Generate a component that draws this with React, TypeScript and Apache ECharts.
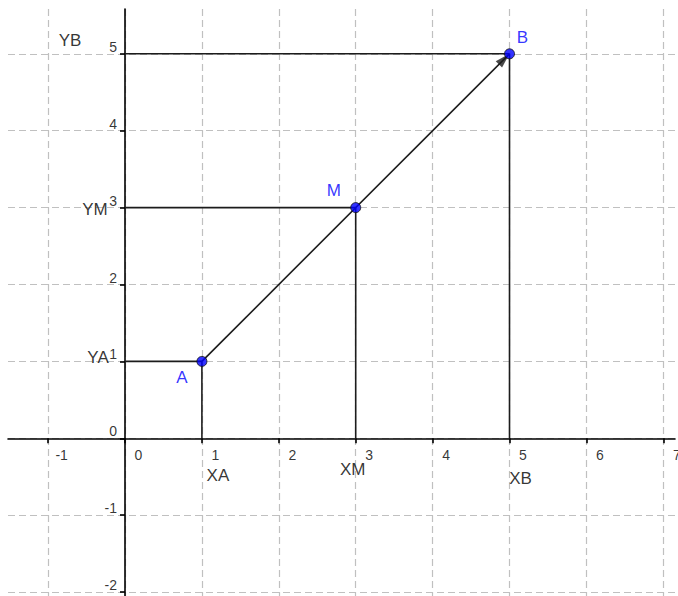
import React, { useEffect, useRef } from "react";
import * as echarts from "echarts";

// ---- data ----
const pointNames = ["A", "M", "B"];
const pointX = [1, 3, 5];
const pointY = [1, 3, 5];
const projXNames = ["XA", "XM", "XB"];
const projYNames = ["YA", "YM", "YB"];
const xTicks = [-1, 0, 1, 2, 3, 4, 5, 6, 7];
const yTicks = [-2, -1, 0, 1, 2, 3, 4, 5];
const xRange = [-1.5215, 7.152];
const yRange = [-2.0507, 5.5826];

// ---- layout (label offsets in px) ----
const pointLabelOffsets = [
  [-20, 16],
  [-22, -17],
  [13, -16],
];
const projXOffsets = [
  [16, 37],
  [-3, 31],
  [11, 40],
];
const projYOffsets = [
  [-27, -4],
  [-30, 2],
  [-55, -13],
];
const ARROW_LEN = 15;
const ARROW_W = 9;

const FONT = "'Liberation Sans', Arial, sans-serif";
const LINE = "#1c1c1c";

export default function App() {
  const ref = useRef<HTMLDivElement>(null);
  useEffect(() => {
    if (!ref.current) return;
    const chart = echarts.init(ref.current, undefined, { renderer: "svg" });

    const segSeries: any[] = [];
    pointX.forEach((x, i) => {
      const y = pointY[i];
      segSeries.push({
        type: "line",
        data: [
          [0, y],
          [x, y],
        ],
        symbol: "none",
        lineStyle: { color: LINE, width: 1.6 },
        z: 3,
        silent: true,
      });
      segSeries.push({
        type: "line",
        data: [
          [x, 0],
          [x, y],
        ],
        symbol: "none",
        lineStyle: { color: LINE, width: 1.6 },
        z: 3,
        silent: true,
      });
    });

    const first = 0;
    const last = pointX.length - 1;
    const dx = pointX[last] - pointX[first];
    const dy = pointY[last] - pointY[first];
    const ang = Math.atan2(dy, dx);
    const rotDeg = (ang * 180) / Math.PI - 90;
    const back = ARROW_LEN / 2;
    const arrowOffset = [-Math.cos(ang) * back, Math.sin(ang) * back];

    const hidden = { color: "rgba(0,0,0,0)" };
    const textBase = { color: "#000", fontFamily: FONT, textBorderWidth: 0 };

    const option: any = {
      animation: false,
      grid: { left: 8, top: 9, right: 3, bottom: 0, containLabel: false, outerBoundsMode: "none" },
      xAxis: {
        type: "value",
        min: xRange[0],
        max: xRange[1],
        axisLine: { onZero: true, lineStyle: { color: "#000", width: 1.6 } },
        axisTick: {
          show: true,
          length: 5,
          customValues: xTicks,
          lineStyle: { color: "#000", width: 1.6 },
        },
        axisLabel: { show: false, customValues: xTicks },
        splitLine: {
          show: true,
          lineStyle: { color: "#c0c0c0", width: 1.2, type: [7, 4] },
        },
      },
      yAxis: {
        type: "value",
        min: yRange[0],
        max: yRange[1],
        axisLine: { onZero: true, lineStyle: { color: "#000", width: 1.6 } },
        axisTick: {
          show: true,
          length: 5,
          customValues: yTicks,
          lineStyle: { color: "#000", width: 1.6 },
        },
        axisLabel: { show: false, customValues: yTicks },
        splitLine: {
          show: true,
          lineStyle: { color: "#c0c0c0", width: 1.2, type: [7, 4] },
        },
      },
      series: [
        ...segSeries,
        {
          type: "line",
          data: [
            [pointX[first], pointY[first]],
            [pointX[last], pointY[last]],
          ],
          symbol: "none",
          lineStyle: { color: LINE, width: 1.6 },
          z: 4,
          silent: true,
        },
        {
          type: "scatter",
          z: 5,
          symbol: "triangle",
          symbolSize: [ARROW_W, ARROW_LEN],
          symbolRotate: rotDeg,
          symbolOffset: arrowOffset,
          itemStyle: { color: LINE },
          silent: true,
          data: [[pointX[last], pointY[last]]],
        },
        // x tick labels (placed on the x axis at y = 0)
        {
          type: "scatter",
          z: 6,
          symbolSize: 1,
          itemStyle: hidden,
          silent: true,
          data: xTicks.map((v) => ({ value: [v, 0], name: String(v) })),
          label: {
            show: true,
            position: "inside",
            offset: [13.5, 17],
            formatter: "{b}",
            fontSize: 14,
            ...textBase,
          },
        },
        // y tick labels (placed on the y axis at x = 0)
        {
          type: "scatter",
          z: 6,
          symbolSize: 1,
          itemStyle: hidden,
          silent: true,
          data: yTicks.map((v) => ({ value: [0, v], name: String(v) })),
          label: {
            show: true,
            position: "inside",
            align: "right",
            verticalAlign: "bottom",
            offset: [-8, 0],
            formatter: "{b}",
            fontSize: 14,
            ...textBase,
          },
        },
        {
          type: "scatter",
          z: 6,
          symbolSize: 1,
          itemStyle: hidden,
          silent: true,
          data: pointX.map((x, i) => ({
            value: [x, 0],
            name: projXNames[i],
            label: {
              show: true,
              position: "inside",
              offset: projXOffsets[i],
              formatter: "{b}",
              fontSize: 17,
              ...textBase,
            },
          })),
        },
        {
          type: "scatter",
          z: 6,
          symbolSize: 1,
          itemStyle: hidden,
          silent: true,
          data: pointY.map((y, i) => ({
            value: [0, y],
            name: projYNames[i],
            label: {
              show: true,
              position: "inside",
              offset: projYOffsets[i],
              formatter: "{b}",
              fontSize: 17,
              ...textBase,
            },
          })),
        },
        {
          type: "scatter",
          z: 8,
          symbol: "circle",
          symbolSize: 10,
          itemStyle: { color: "#0000ff", borderColor: "#111", borderWidth: 1 },
          silent: true,
          data: pointX.map((x, i) => ({
            value: [x, pointY[i]],
            name: pointNames[i],
            label: {
              show: true,
              position: "inside",
              offset: pointLabelOffsets[i],
              formatter: "{b}",
              fontSize: 17,
              fontFamily: FONT,
              color: "#0000ff",
              textBorderWidth: 0,
            },
          })),
        },
      ],
    };
    chart.setOption(option);
    return () => chart.dispose();
  }, []);
  return (
    <div
      ref={ref}
      style={{ position: "absolute", left: 0, top: 0, width: 678, height: 596, background: "#fff" }}
    />
  );
}
